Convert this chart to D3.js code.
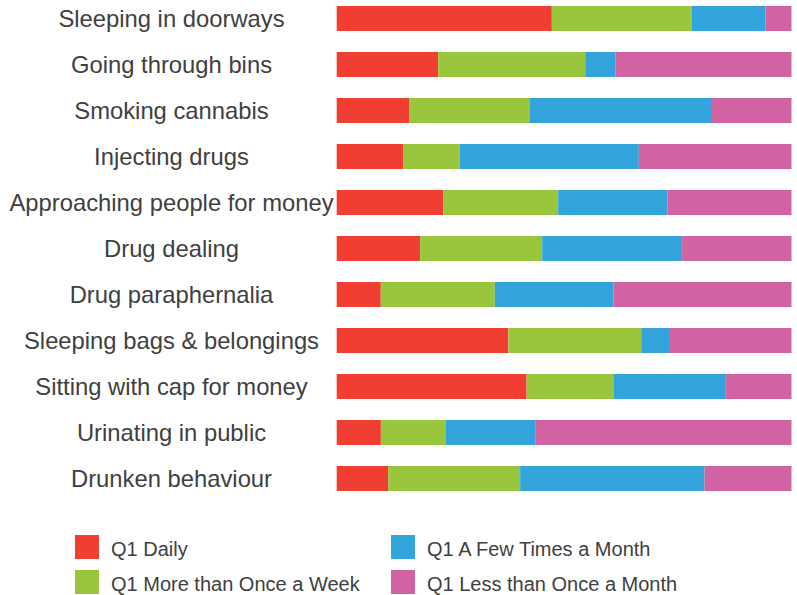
<!DOCTYPE html>
<html><head><meta charset="utf-8">
<script src="https://cdn.jsdelivr.net/npm/d3@7"></script>
<style>body{margin:0;background:#fff;}svg{display:block;font-family:"Liberation Sans",Arial,sans-serif;}</style>
</head><body><svg id="c" width="797" height="595"></svg>
<script>
const categories = ["Sleeping in doorways","Going through bins","Smoking cannabis","Injecting drugs","Approaching people for money","Drug dealing","Drug paraphernalia","Sleeping bags & belongings","Sitting with cap for money","Urinating in public","Drunken behaviour"];
const seriesNames = ["Q1 Daily","Q1 More than Once a Week","Q1 A Few Times a Month","Q1 Less than Once a Month"];
const daily      = [47.3,22.3,15.9,14.6,23.4,18.3, 9.7,37.7,41.8, 9.7,11.3];
const weekly     = [30.8,32.3,26.6,12.5,25.3,26.8,25.1,29.2,19.1,14.3,29.0];
const monthly    = [16.2, 6.6,39.8,39.4,24.0,30.7,26.1, 6.3,24.6,19.6,40.5];
const lessMonthly= [ 5.7,38.7,17.7,33.6,27.3,24.0,39.2,26.7,14.6,56.3,19.1];
const colors = ["#F03E32","#99C63C","#33A3DC","#D163A5"];

const rows = categories.map((c,i)=>{
  const vals=[daily[i],weekly[i],monthly[i],lessMonthly[i]];
  const tot=d3.sum(vals);
  const o={cat:c};
  seriesNames.forEach((s,j)=>o[s]=vals[j]/tot*100);
  return o;
});
const stack = d3.stack().keys(seriesNames)(rows);
const svg = d3.select("#c");
const x = d3.scaleLinear().domain([0,100]).range([336.7,791.5]);
const y = d3.scaleBand().domain(categories).range([-4.5,501.5]).paddingInner(21/46).paddingOuter(21/92);

svg.append("g").selectAll("g").data(stack).join("g")
  .attr("fill",(d,i)=>colors[i])
  .selectAll("rect").data(d=>d).join("rect")
  .attr("x",d=>x(d[0])).attr("width",d=>x(d[1])-x(d[0]))
  .attr("y",d=>y(d.data.cat)).attr("height",y.bandwidth());

svg.append("g").selectAll("text").data(categories).join("text")
  .attr("x",171.5).attr("y",d=>y(d)+y.bandwidth()/2)
  .attr("dy","0.36em").attr("text-anchor","middle")
  .attr("font-size",23.8).attr("fill","#404040").text(d=>d);

const legPos = [[75,535],[75,570],[391,535],[391,570]];
const lg = svg.append("g").selectAll("g").data(seriesNames).join("g")
  .attr("transform",(d,i)=>`translate(${legPos[i][0]},${legPos[i][1]})`);
lg.append("rect").attr("width",24).attr("height",24).attr("fill",(d,i)=>colors[i]);
lg.append("text").attr("x",36).attr("y",12).attr("dy","0.46em")
  .attr("font-size",20).attr("fill","#404040").text(d=>d);
</script></body></html>
